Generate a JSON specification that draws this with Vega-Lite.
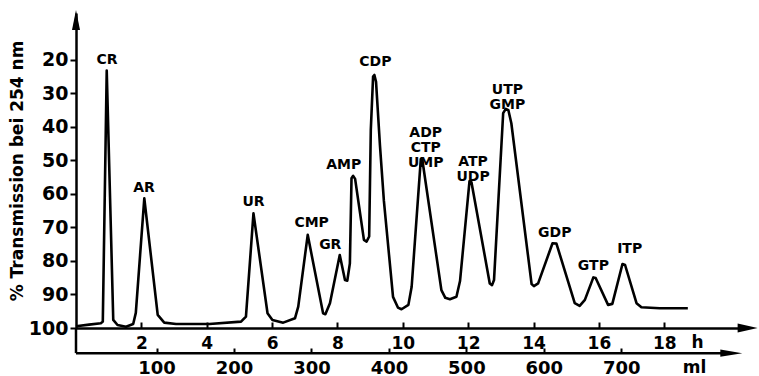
{
  "$schema": "https://vega.github.io/schema/vega-lite/v6.json",
  "width": 670,
  "height": 315,
  "autosize": "none",
  "padding": {"left": 76, "top": 13, "right": 13, "bottom": 48},
  "background": "white",
  "config": {
    "view": {"stroke": null},
    "font": "DejaVu Sans",
    "axis": {"grid": false, "domainColor": "black", "tickColor": "black", "labelColor": "black", "titleColor": "black"}
  },
  "datasets": {
    "curve": [
      {"h": 0, "v": 99.5}, {"h": 0.4, "v": 99.0}, {"h": 0.76, "v": 98.6}, {"h": 0.82, "v": 98.1},
      {"h": 0.94, "v": 23.2}, {"h": 1.14, "v": 97.6}, {"h": 1.27, "v": 99.1}, {"h": 1.53, "v": 99.6},
      {"h": 1.75, "v": 98.8}, {"h": 1.83, "v": 95.5}, {"h": 2.09, "v": 61.3}, {"h": 2.5, "v": 96.1},
      {"h": 2.7, "v": 98.4}, {"h": 3.06, "v": 98.8}, {"h": 4.08, "v": 98.8}, {"h": 5.05, "v": 98.1},
      {"h": 5.2, "v": 96.6}, {"h": 5.43, "v": 65.8}, {"h": 5.86, "v": 95.6}, {"h": 6.01, "v": 97.6},
      {"h": 6.34, "v": 98.4}, {"h": 6.7, "v": 97.1}, {"h": 6.8, "v": 93.6}, {"h": 7.09, "v": 72.2},
      {"h": 7.56, "v": 95.6}, {"h": 7.63, "v": 95.9}, {"h": 7.77, "v": 92.6}, {"h": 8.07, "v": 78.2},
      {"h": 8.23, "v": 85.7}, {"h": 8.3, "v": 85.9}, {"h": 8.38, "v": 80.7}, {"h": 8.43, "v": 55.3},
      {"h": 8.48, "v": 54.6}, {"h": 8.54, "v": 55.5}, {"h": 8.81, "v": 73.7}, {"h": 8.89, "v": 74.2},
      {"h": 8.97, "v": 72.7}, {"h": 9.02, "v": 40.9}, {"h": 9.09, "v": 25.0}, {"h": 9.13, "v": 24.5},
      {"h": 9.18, "v": 26.5}, {"h": 9.3, "v": 45.5}, {"h": 9.42, "v": 62.0}, {"h": 9.7, "v": 90.7},
      {"h": 9.85, "v": 93.9}, {"h": 9.96, "v": 94.4}, {"h": 10.17, "v": 93.1}, {"h": 10.27, "v": 87.7},
      {"h": 10.55, "v": 49.6}, {"h": 10.6, "v": 50.0}, {"h": 11.18, "v": 88.7}, {"h": 11.3, "v": 91.0},
      {"h": 11.44, "v": 91.4}, {"h": 11.64, "v": 90.7}, {"h": 11.75, "v": 86.0}, {"h": 12.04, "v": 56.2},
      {"h": 12.1, "v": 56.5}, {"h": 12.66, "v": 86.7}, {"h": 12.73, "v": 87.2}, {"h": 12.79, "v": 85.7},
      {"h": 13.07, "v": 35.9}, {"h": 13.15, "v": 34.6}, {"h": 13.23, "v": 35.0}, {"h": 13.32, "v": 38.9},
      {"h": 13.94, "v": 86.9}, {"h": 14.01, "v": 87.5}, {"h": 14.14, "v": 86.7}, {"h": 14.58, "v": 74.7},
      {"h": 14.7, "v": 74.8}, {"h": 15.26, "v": 92.6}, {"h": 15.41, "v": 93.4}, {"h": 15.57, "v": 91.6},
      {"h": 15.83, "v": 84.9}, {"h": 15.9, "v": 85.1}, {"h": 16.28, "v": 93.1}, {"h": 16.41, "v": 92.8},
      {"h": 16.72, "v": 80.9}, {"h": 16.8, "v": 81.2}, {"h": 17.15, "v": 92.6}, {"h": 17.3, "v": 93.8},
      {"h": 17.86, "v": 94.1}, {"h": 18.72, "v": 94.1}
    ],
    "labels": [
      {"name": ["CR"], "h": 0.95, "v": 20.0}, {"name": ["AR"], "h": 2.08, "v": 58.2},
      {"name": ["UR"], "h": 5.43, "v": 62.5}, {"name": ["CMP"], "h": 7.21, "v": 68.7},
      {"name": ["GR"], "h": 7.78, "v": 75.2}, {"name": ["AMP"], "h": 8.19, "v": 51.3},
      {"name": ["CDP"], "h": 9.16, "v": 20.6}, {"name": ["ADP", "CTP", "UMP"], "h": 10.7, "v": 41.7},
      {"name": ["ATP", "UDP"], "h": 12.15, "v": 50.6},
      {"name": ["UTP", "GMP"], "h": 13.2, "v": 29.1},
      {"name": ["GDP"], "h": 14.65, "v": 71.6}, {"name": ["GTP"], "h": 15.83, "v": 81.6},
      {"name": ["ITP"], "h": 16.94, "v": 76.4}
    ],
    "yext": [{"h": 0, "v": 100, "v2": 107.5}],
    "harrow": [{"h": 20.55, "v": 100}],
    "yarrow": [{"h": 0, "v": 8.1}],
    "mlline": [{"ml": -4, "ml2": 832, "v": 107.5}],
    "mlarrow": [{"ml": 842, "v": 107.5}]
  },
  "layer": [
    {
      "layer": [
        {
          "data": {"name": "curve"},
          "mark": {"type": "line", "color": "black", "strokeWidth": 2.6, "strokeJoin": "round"},
          "encoding": {
            "x": {
              "field": "h", "type": "quantitative",
              "scale": {"domain": [0, 20.5], "nice": false, "zero": false},
              "axis": {
                "orient": "bottom",
                "values": [2, 4, 6, 8, 10, 12, 14, 16, 18],
                "title": "h", "titleX": 621, "titleY": 19, "titleBaseline": "alphabetic", "titleAlign": "center", "titleAngle": 0,
                "titleFontSize": 17, "titleFontWeight": "bold",
                "labelFontSize": 17, "labelFontWeight": "bold", "labelFlush": false, "labelOverlap": false,
                "tickSize": -6, "tickWidth": 2, "labelPadding": 13, "domainWidth": 2.5
              }
            },
            "y": {
              "field": "v", "type": "quantitative",
              "scale": {"domain": [6, 100], "reverse": true, "nice": false, "zero": false},
              "axis": {
                "values": [20, 30, 40, 50, 60, 70, 80, 90, 100],
                "title": "% Transmission bei 254 nm", "titleFontSize": 17, "titleFontWeight": "bold", "titlePadding": 2,
                "labelFontSize": 19, "labelFontWeight": "bold", "labelFlush": false, "labelOverlap": false,
                "tickSize": 6, "tickWidth": 2, "labelPadding": 2, "domainWidth": 2.5
              }
            }
          }
        },
        {
          "data": {"name": "yext"},
          "mark": {"type": "rule", "color": "black", "strokeWidth": 2.5},
          "encoding": {
            "x": {"field": "h", "type": "quantitative", "axis": {
                "orient": "bottom",
                "values": [2, 4, 6, 8, 10, 12, 14, 16, 18],
                "title": "h", "titleX": 621, "titleY": 19, "titleBaseline": "alphabetic", "titleAlign": "center", "titleAngle": 0,
                "titleFontSize": 17, "titleFontWeight": "bold",
                "labelFontSize": 17, "labelFontWeight": "bold", "labelFlush": false, "labelOverlap": false,
                "tickSize": -6, "tickWidth": 2, "labelPadding": 13, "domainWidth": 2.5
              }},
            "y": {"field": "v", "type": "quantitative", "axis": {
                "values": [20, 30, 40, 50, 60, 70, 80, 90, 100],
                "title": "% Transmission bei 254 nm", "titleFontSize": 17, "titleFontWeight": "bold", "titlePadding": 2,
                "labelFontSize": 19, "labelFontWeight": "bold", "labelFlush": false, "labelOverlap": false,
                "tickSize": 6, "tickWidth": 2, "labelPadding": 2, "domainWidth": 2.5
              }},
            "y2": {"field": "v2"}
          }
        },
        {
          "data": {"name": "harrow"},
          "mark": {"type": "point", "shape": "M-1,-0.45L1,0L-1,0.45Z", "filled": true, "size": 400, "color": "black", "opacity": 1},
          "encoding": {
            "x": {"field": "h", "type": "quantitative", "axis": {
                "orient": "bottom",
                "values": [2, 4, 6, 8, 10, 12, 14, 16, 18],
                "title": "h", "titleX": 621, "titleY": 19, "titleBaseline": "alphabetic", "titleAlign": "center", "titleAngle": 0,
                "titleFontSize": 17, "titleFontWeight": "bold",
                "labelFontSize": 17, "labelFontWeight": "bold", "labelFlush": false, "labelOverlap": false,
                "tickSize": -6, "tickWidth": 2, "labelPadding": 13, "domainWidth": 2.5
              }},
            "y": {"field": "v", "type": "quantitative", "axis": {
                "values": [20, 30, 40, 50, 60, 70, 80, 90, 100],
                "title": "% Transmission bei 254 nm", "titleFontSize": 17, "titleFontWeight": "bold", "titlePadding": 2,
                "labelFontSize": 19, "labelFontWeight": "bold", "labelFlush": false, "labelOverlap": false,
                "tickSize": 6, "tickWidth": 2, "labelPadding": 2, "domainWidth": 2.5
              }}
          }
        },
        {
          "data": {"name": "yarrow"},
          "mark": {"type": "point", "shape": "M-0.4,1L0,-1L0.4,1Z", "filled": true, "size": 400, "color": "black", "opacity": 1},
          "encoding": {
            "x": {"field": "h", "type": "quantitative", "axis": {
                "orient": "bottom",
                "values": [2, 4, 6, 8, 10, 12, 14, 16, 18],
                "title": "h", "titleX": 621, "titleY": 19, "titleBaseline": "alphabetic", "titleAlign": "center", "titleAngle": 0,
                "titleFontSize": 17, "titleFontWeight": "bold",
                "labelFontSize": 17, "labelFontWeight": "bold", "labelFlush": false, "labelOverlap": false,
                "tickSize": -6, "tickWidth": 2, "labelPadding": 13, "domainWidth": 2.5
              }},
            "y": {"field": "v", "type": "quantitative", "axis": {
                "values": [20, 30, 40, 50, 60, 70, 80, 90, 100],
                "title": "% Transmission bei 254 nm", "titleFontSize": 17, "titleFontWeight": "bold", "titlePadding": 2,
                "labelFontSize": 19, "labelFontWeight": "bold", "labelFlush": false, "labelOverlap": false,
                "tickSize": 6, "tickWidth": 2, "labelPadding": 2, "domainWidth": 2.5
              }}
          }
        },
        {
          "data": {"name": "labels"},
          "mark": {"type": "text", "font": "DejaVu Sans", "fontWeight": "bold", "fontSize": 14, "lineHeight": 15, "color": "black", "baseline": "middle", "align": "center"},
          "encoding": {
            "x": {"field": "h", "type": "quantitative", "axis": {
                "orient": "bottom",
                "values": [2, 4, 6, 8, 10, 12, 14, 16, 18],
                "title": "h", "titleX": 621, "titleY": 19, "titleBaseline": "alphabetic", "titleAlign": "center", "titleAngle": 0,
                "titleFontSize": 17, "titleFontWeight": "bold",
                "labelFontSize": 17, "labelFontWeight": "bold", "labelFlush": false, "labelOverlap": false,
                "tickSize": -6, "tickWidth": 2, "labelPadding": 13, "domainWidth": 2.5
              }},
            "y": {"field": "v", "type": "quantitative", "axis": {
                "values": [20, 30, 40, 50, 60, 70, 80, 90, 100],
                "title": "% Transmission bei 254 nm", "titleFontSize": 17, "titleFontWeight": "bold", "titlePadding": 2,
                "labelFontSize": 19, "labelFontWeight": "bold", "labelFlush": false, "labelOverlap": false,
                "tickSize": 6, "tickWidth": 2, "labelPadding": 2, "domainWidth": 2.5
              }},
            "text": {"field": "name"}
          }
        }
      ]
    },
    {
      "layer": [
        {
          "data": {"name": "mlline"},
          "mark": {"type": "rule", "color": "black", "strokeWidth": 2.5},
          "encoding": {
            "x": {
              "field": "ml", "type": "quantitative",
              "scale": {"domain": [-4, 861], "nice": false, "zero": false},
              "axis": {
                "orient": "bottom", "offset": 25, "domain": false,
                "values": [100, 200, 300, 400, 500, 600, 700],
                "title": "ml", "titleX": 618, "titleY": 19, "titleBaseline": "alphabetic", "titleAlign": "center", "titleAngle": 0,
                "titleFontSize": 17, "titleFontWeight": "bold",
                "labelFontSize": 18, "labelFontWeight": "bold", "labelFlush": false, "labelOverlap": false,
                "labelBaseline": "alphabetic",
                "tickSize": -5, "tickWidth": 2, "labelPadding": 25
              }
            },
            "x2": {"field": "ml2"},
            "y": {"field": "v", "type": "quantitative", "axis": {
                "values": [20, 30, 40, 50, 60, 70, 80, 90, 100],
                "title": "% Transmission bei 254 nm", "titleFontSize": 17, "titleFontWeight": "bold", "titlePadding": 2,
                "labelFontSize": 19, "labelFontWeight": "bold", "labelFlush": false, "labelOverlap": false,
                "tickSize": 6, "tickWidth": 2, "labelPadding": 2, "domainWidth": 2.5
              }}
          }
        },
        {
          "data": {"name": "mlarrow"},
          "mark": {"type": "point", "shape": "M-1,-0.32L1,0L-1,0.32Z", "filled": true, "size": 484, "color": "black", "opacity": 1},
          "encoding": {
            "x": {"field": "ml", "type": "quantitative", "axis": {
                "orient": "bottom", "offset": 25, "domain": false,
                "values": [100, 200, 300, 400, 500, 600, 700],
                "title": "ml", "titleX": 618, "titleY": 19, "titleBaseline": "alphabetic", "titleAlign": "center", "titleAngle": 0,
                "titleFontSize": 17, "titleFontWeight": "bold",
                "labelFontSize": 18, "labelFontWeight": "bold", "labelFlush": false, "labelOverlap": false,
                "labelBaseline": "alphabetic",
                "tickSize": -5, "tickWidth": 2, "labelPadding": 25
              }},
            "y": {"field": "v", "type": "quantitative", "axis": {
                "values": [20, 30, 40, 50, 60, 70, 80, 90, 100],
                "title": "% Transmission bei 254 nm", "titleFontSize": 17, "titleFontWeight": "bold", "titlePadding": 2,
                "labelFontSize": 19, "labelFontWeight": "bold", "labelFlush": false, "labelOverlap": false,
                "tickSize": 6, "tickWidth": 2, "labelPadding": 2, "domainWidth": 2.5
              }}
          }
        }
      ]
    }
  ],
  "resolve": {"scale": {"x": "independent"}, "axis": {"x": "independent"}}
}
